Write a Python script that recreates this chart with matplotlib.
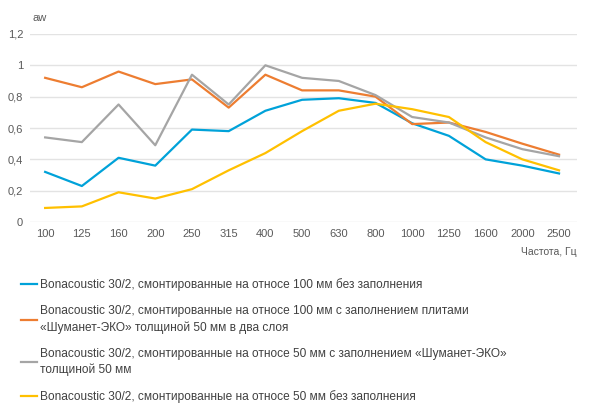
import matplotlib
matplotlib.use("Agg")
import matplotlib.pyplot as plt

plt.rcParams['font.family'] = ['Liberation Sans', 'DejaVu Sans']

# Частоты (категории) и значения коэффициента звукопоглощения
freqs = ["100", "125", "160", "200", "250", "315", "400", "500",
         "630", "800", "1000", "1250", "1600", "2000", "2500"]
blue = [0.32, 0.23, 0.41, 0.36, 0.59, 0.58, 0.71, 0.78, 0.79, 0.76, 0.63, 0.55, 0.40, 0.36, 0.31]
orange = [0.92, 0.86, 0.96, 0.88, 0.91, 0.73, 0.94, 0.84, 0.84, 0.80, 0.625, 0.635, 0.575, 0.50, 0.43]
gray = [0.54, 0.51, 0.75, 0.49, 0.94, 0.75, 1.00, 0.92, 0.90, 0.81, 0.67, 0.635, 0.54, 0.465, 0.42]
yellow = [0.09, 0.10, 0.19, 0.15, 0.21, 0.33, 0.44, 0.58, 0.71, 0.755, 0.72, 0.67, 0.51, 0.40, 0.33]

labels = [
    "Bonacoustic 30/2, смонтированные на относе 100 мм без заполнения",
    "Bonacoustic 30/2, смонтированные на относе 100 мм с заполнением плитами\n«Шуманет-ЭКО» толщиной 50 мм в два слоя",
    "Bonacoustic 30/2, смонтированные на относе 50 мм с заполнением «Шуманет-ЭКО»\nтолщиной 50 мм",
    "Bonacoustic 30/2, смонтированные на относе 50 мм без заполнения",
]
series = [blue, orange, gray, yellow]
colors = ["#00a2d9", "#ed7d31", "#a5a5a5", "#ffc000"]

fig = plt.figure(figsize=(5.9, 4.19), dpi=100)
ax = fig.add_axes([0.051, 0.470, 0.927, 0.449])

x = list(range(len(freqs)))
lines = []
for vals, c, lab in zip(series, colors, labels):
    ln, = ax.plot(x, vals, color=c, linewidth=1.6, label=lab)
    lines.append(ln)

ax.set_ylim(0, 1.2)
ax.set_xlim(-0.41, 14.49)
ax.set_yticks([0, 0.2, 0.4, 0.6, 0.8, 1.0, 1.2])
ax.set_yticklabels(["0", "0,2", "0,4", "0,6", "0,8", "1", "1,2"])
ax.set_xticks(x)
ax.set_xticklabels(freqs)
ax.tick_params(axis="both", length=0, labelsize=8, colors="#595959")
ax.tick_params(axis="x", pad=5)
ax.tick_params(axis="y", pad=5)
ax.grid(axis="y", color="#e3e3e3", linewidth=1)
ax.set_axisbelow(True)
for s in ax.spines.values():
    s.set_visible(False)

fig.text(40 / 590, 1 - 18 / 419, "aw", fontsize=8, color="#595959", ha="center", va="center")
fig.text(577 / 590, 1 - 252 / 419, "Частота, Гц", fontsize=7.5, color="#595959", ha="right", va="center")

leg = fig.legend(handles=lines, loc="upper left", bbox_to_anchor=(21 / 590, 1 - 278 / 419),
                 frameon=False, fontsize=8.6, handlelength=1.35, handletextpad=0.2,
                 labelspacing=1.2, borderaxespad=0, borderpad=0)
for t in leg.get_texts():
    t.set_color("#404040")
    t.set_linespacing(1.4)

fig.savefig("out.png", dpi=100)
